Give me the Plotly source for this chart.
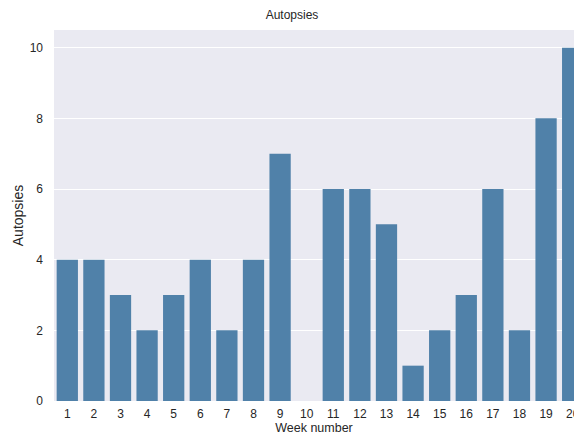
import plotly.graph_objects as go

weeks = [str(i) for i in range(1, 21)]
autopsies = [4, 4, 3, 2, 3, 4, 2, 4, 7, 0, 6, 6, 5, 1, 2, 3, 6, 2, 8, 10]

fig = go.Figure(go.Bar(x=weeks, y=autopsies, marker_color="#5081a9", marker_line_width=0))

font = dict(family="Liberation Sans, Arial", size=12, color="#262626")
fig.update_layout(
    width=574, height=437,
    margin=dict(l=54, r=0, t=30, b=36),
    paper_bgcolor="white", plot_bgcolor="#EAEAF2",
    bargap=0.2, font=font, showlegend=False,
    title=dict(text="Autopsies", x=292/574, xanchor="center", xref="container",
               y=1 - 15/437, yanchor="middle", yref="container", font=dict(size=12)),
)
fig.update_xaxes(type="category", range=[-0.5, 19.05], showgrid=False, zeroline=False,
                 ticks="", ticklabelstandoff=4,
                 title=dict(text="Week number", standoff=0, font=dict(size=12.5)),
                 automargin=False)
fig.update_yaxes(range=[0, 10.5], tickvals=[0, 2, 4, 6, 8, 10], showgrid=True,
                 gridcolor="white", gridwidth=1, zeroline=False, ticks="",
                 ticklabelstandoff=10,
                 title=dict(text="Autopsies", standoff=2, font=dict(size=14)),
                 automargin=False)
fig.write_html("out.html", config={"displayModeBar": False},
               post_script="document.body.style.margin='0';document.body.style.overflow='hidden';")
